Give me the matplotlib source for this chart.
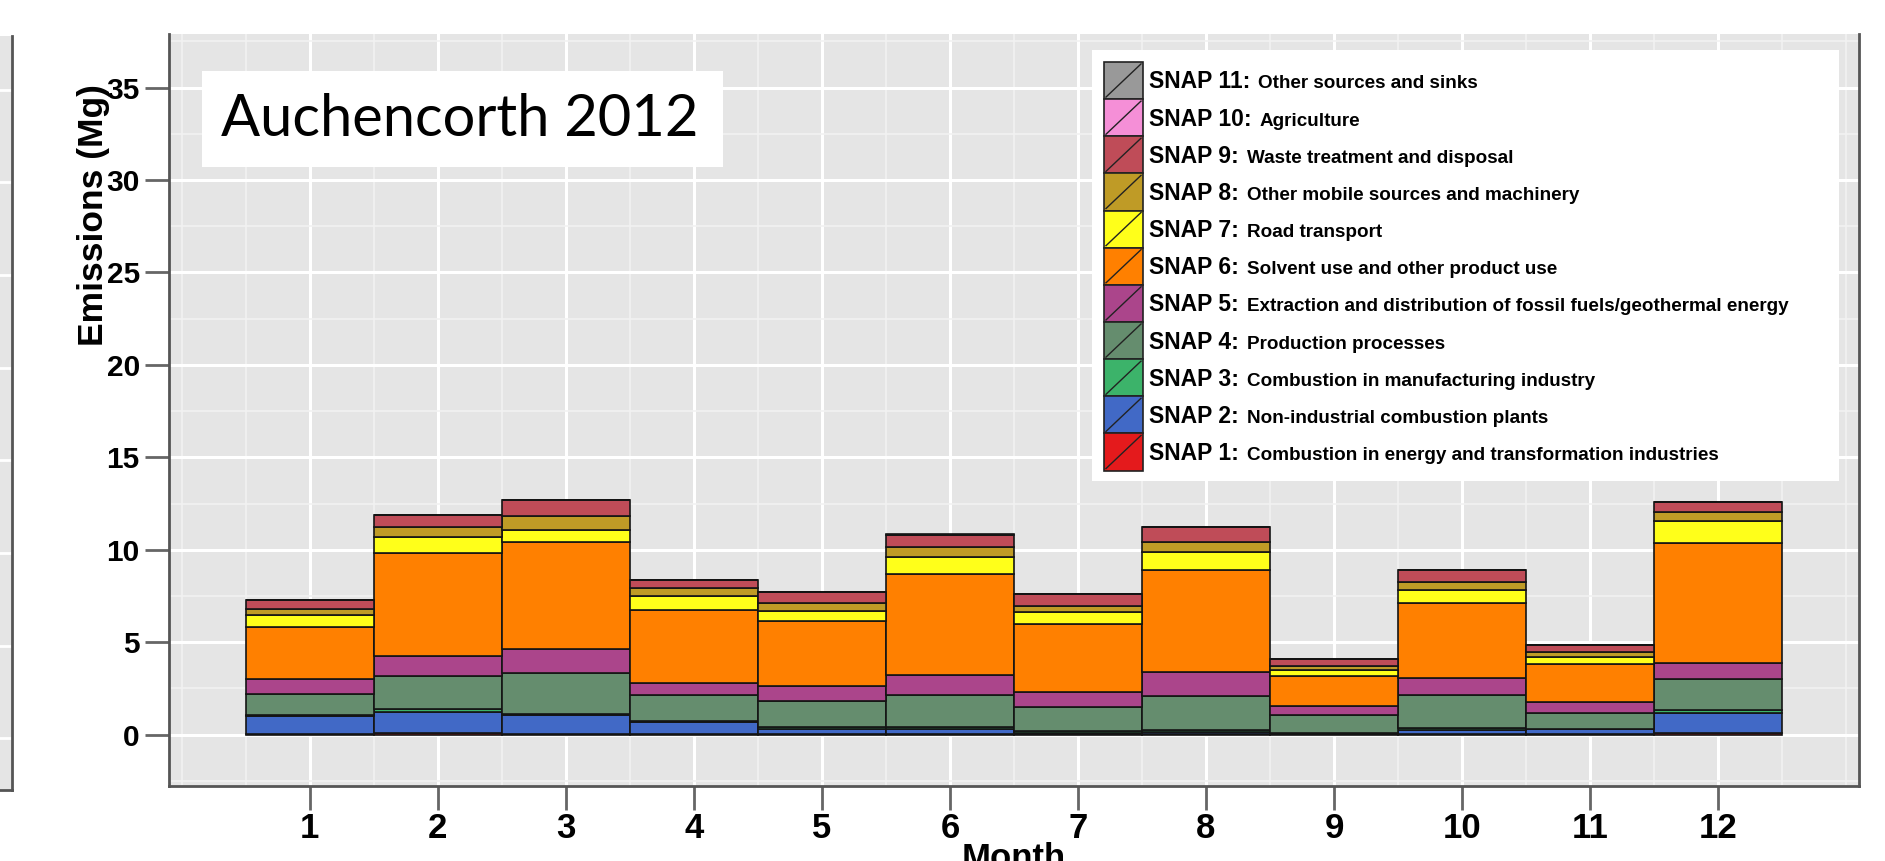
import numpy as np
import matplotlib
matplotlib.use("Agg")
import matplotlib.pyplot as plt
from matplotlib.patches import Rectangle
from matplotlib.lines import Line2D

# ---------------- data ----------------
months = [1, 2, 3, 4, 5, 6, 7, 8, 9, 10, 11, 12]
month_labels = ["1", "2", "3", "4", "5", "6", "7", "8", "9", "10", "11", "12"]

snap1 = [0.02, 0.10, 0.02, 0.02, 0.02, 0.02, 0.05, 0.03, 0.02, 0.05, 0.02, 0.10]
snap2 = [1.00, 1.14, 1.06, 0.68, 0.29, 0.29, 0.05, 0.10, 0.09, 0.22, 0.28, 1.09]
snap3 = [0.05, 0.13, 0.04, 0.06, 0.09, 0.09, 0.08, 0.12, 0.00, 0.11, 0.02, 0.16]
snap4 = [1.15, 1.82, 2.20, 1.40, 1.40, 1.74, 1.33, 1.86, 0.94, 1.78, 0.87, 1.64]
snap5 = [0.77, 1.04, 1.31, 0.61, 0.85, 1.10, 0.78, 1.26, 0.50, 0.90, 0.58, 0.90]
snap6 = [2.83, 5.57, 5.77, 3.99, 3.48, 5.44, 3.69, 5.53, 1.60, 4.06, 2.07, 6.49]
snap7 = [0.63, 0.87, 0.68, 0.75, 0.54, 0.91, 0.63, 0.99, 0.33, 0.68, 0.36, 1.15]
snap8 = [0.36, 0.54, 0.72, 0.42, 0.43, 0.54, 0.36, 0.54, 0.21, 0.45, 0.27, 0.52]
snap9 = [0.45, 0.66, 0.90, 0.45, 0.63, 0.68, 0.63, 0.81, 0.42, 0.67, 0.39, 0.53]
snap10 = [0.0, 0.0, 0.0, 0.0, 0.0, 0.0, 0.0, 0.0, 0.0, 0.0, 0.0, 0.0]
snap11 = [0.0, 0.0, 0.0, 0.0, 0.0, 0.06, 0.0, 0.0, 0.0, 0.0, 0.0, 0.0]

series = [snap1, snap2, snap3, snap4, snap5, snap6, snap7, snap8, snap9, snap10, snap11]
snap_names = ["SNAP 1:", "SNAP 2:", "SNAP 3:", "SNAP 4:", "SNAP 5:", "SNAP 6:",
              "SNAP 7:", "SNAP 8:", "SNAP 9:", "SNAP 10:", "SNAP 11:"]
snap_desc = ["Combustion in energy and transformation industries",
             "Non-industrial combustion plants",
             "Combustion in manufacturing industry",
             "Production processes",
             "Extraction and distribution of fossil fuels/geothermal energy",
             "Solvent use and other product use",
             "Road transport",
             "Other mobile sources and machinery",
             "Waste treatment and disposal",
             "Agriculture",
             "Other sources and sinks"]
colors = ["#E41A1C", "#4169C6", "#3CB36A", "#658D6E", "#AB458B", "#FF8000",
          "#FFFF1A", "#BF9B26", "#BF4C58", "#F58FD7", "#999999"]

title_text = "Auchencorth 2012"
ylabel_text = "Emissions (Mg)"
xlabel_text = "Month"

# ---------------- figure ----------------
W, H = 1885, 861
fig = plt.figure(figsize=(W / 100, H / 100), dpi=100)
fig.patch.set_facecolor("white")

BOLD = dict(family="Liberation Sans", weight="bold")

# left strip (neighbouring panel remnant)
lax = fig.add_axes([0, 1 - 790 / H, 12 / W, (790 - 36) / H])
lax.set_facecolor("#E5E5E5")
lax.set_ylim(-2.78, 37.9)
lax.set_yticks(range(0, 36, 5))
lax.set_xticks([])
lax.tick_params(length=0, labelleft=False)
lax.grid(axis="y", color="white", lw=2)
for s in ["top", "left"]:
    lax.spines[s].set_visible(False)
for s in ["right", "bottom"]:
    lax.spines[s].set_color("#555555")
    lax.spines[s].set_linewidth(2)

# main axes
ax = fig.add_axes([169 / W, 1 - 786 / H, (1859 - 169) / W, (786 - 34) / H])
ax.set_facecolor("#E5E5E5")
bottom = np.zeros(len(months))
for vals, col in zip(series, colors):
    v = np.array(vals)
    ax.bar(months, v, width=1.0, bottom=bottom, color=col,
           edgecolor="#141414", linewidth=1.2, zorder=3)
    bottom = bottom + v

ax.set_xlim(-0.1, 13.1)
ax.set_ylim(-2.78, 37.9)
ax.set_xticks(months)
ax.set_xticklabels(month_labels)
ax.set_yticks(range(0, 36, 5))
ax.set_xticks([0] + [m - 0.5 for m in months] + [12.5, 13], minor=True)
ax.set_yticks(np.arange(-2.5, 38, 5), minor=True)
ax.grid(which="major", color="white", lw=2.2, zorder=0)
ax.grid(which="minor", color="#F2F2F2", lw=1.2, zorder=0)
ax.set_axisbelow(True)

ax.tick_params(which="minor", length=0)
ax.tick_params(axis="both", which="major", length=17, width=2, color="#666666")
ax.tick_params(axis="x", pad=2, labelsize=25)
ax.tick_params(axis="y", pad=4, labelsize=21.5)
for lab in ax.get_xticklabels() + ax.get_yticklabels():
    lab.set_fontfamily("Liberation Sans")
    lab.set_fontweight("bold")

ax.spines["top"].set_visible(False)
for s in ["left", "bottom", "right"]:
    ax.spines[s].set_color("#555555")
    ax.spines[s].set_linewidth(2)

# axis labels
fig.text(1014 / W, 1 - 842 / H, xlabel_text, ha="center", va="top",
         fontsize=25, **BOLD)
fig.text(93 / W, 1 - 215 / H, ylabel_text, ha="center", va="center",
         rotation=90, fontsize=25.5, **BOLD)

# overlay in pixel coordinates for title box and legend
ov = fig.add_axes([0, 0, 1, 1], zorder=10)
ov.set_xlim(0, W)
ov.set_ylim(H, 0)
ov.axis("off")
ov.patch.set_alpha(0)

ov.add_patch(Rectangle((202, 71), 521, 96, facecolor="white", edgecolor="none"))
ov.text(460, 119, title_text, ha="center", va="center", fontsize=41.7,
        family="Lato", color="black")

# legend
ov.add_patch(Rectangle((1092, 50), 747, 431, facecolor="white", edgecolor="none"))
row_h = 37.15
y0 = 80.5
kx0, kx1 = 1104, 1143
renderer = fig.canvas.get_renderer()
order = list(range(len(series)))[::-1]
for i, idx in enumerate(order):
    yc = y0 + i * row_h
    ov.add_patch(Rectangle((kx0, yc - row_h / 2), kx1 - kx0, row_h,
                           facecolor=colors[idx], edgecolor="#222222", lw=1.2))
    ov.add_line(Line2D([kx0 + 2, kx1 - 2], [yc + row_h / 2 - 2, yc - row_h / 2 + 2],
                       color="#222222", lw=1.0))
    t1 = ov.text(1149, yc + 8, snap_names[idx], ha="left", va="baseline",
                 fontsize=16.5, **BOLD)
    ext = t1.get_window_extent(renderer)
    ov.text(ext.x1 + 8, yc + 8, snap_desc[idx], ha="left", va="baseline",
            fontsize=13.6, **BOLD)

fig.savefig("out.png", dpi=100, facecolor="white")
